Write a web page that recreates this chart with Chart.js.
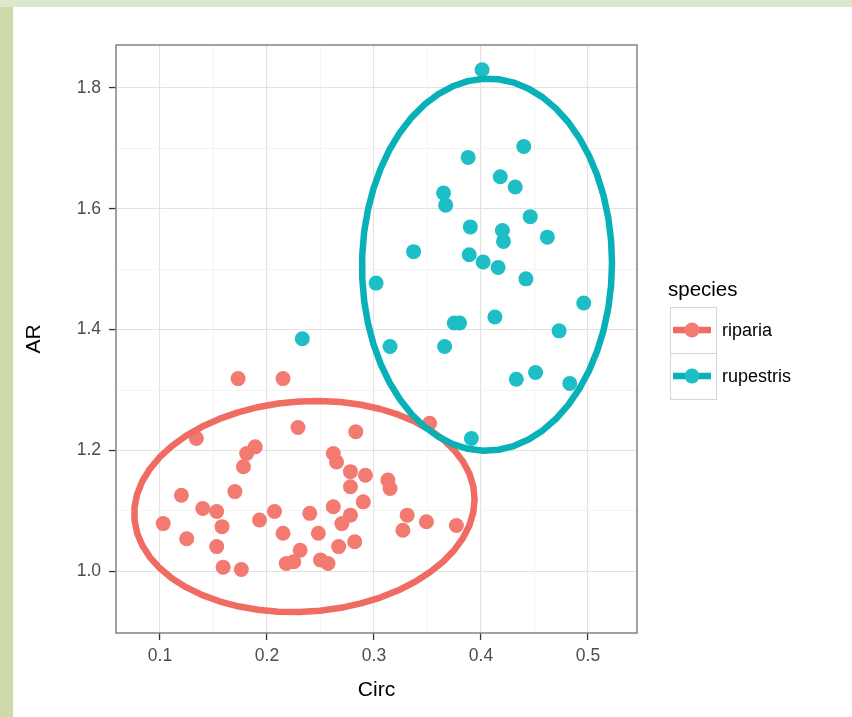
<!DOCTYPE html>
<html>
<head>
<meta charset="utf-8">
<script src="https://cdn.jsdelivr.net/npm/chart.js@4.4.1/dist/chart.umd.min.js"></script>
<style>
  html, body { margin: 0; padding: 0; }
  body { width: 852px; height: 717px; position: relative; background: #cbd9ab; overflow: hidden; }
  #topStrip { position: absolute; left: 0; top: 0; width: 852px; height: 7px; background: #dde7cb; }
  #paper { position: absolute; left: 13px; top: 7px; width: 839px; height: 710px; background: #ffffff; }
  #plot { position: absolute; left: 0; top: 0; }
</style>
</head>
<body>
<div id="topStrip"></div>
<div id="paper"></div>
<canvas id="plot" width="852" height="717"></canvas>
<script>
// values
const ripariaCirc = [0.173, 0.215, 0.229, 0.283, 0.189, 0.181, 0.178, 0.262, 0.265, 0.278,
                     0.292, 0.313, 0.315, 0.278, 0.290, 0.170, 0.120, 0.140, 0.153, 0.158,
                     0.103, 0.125, 0.153, 0.159, 0.176, 0.193, 0.207, 0.215, 0.218, 0.225,
                     0.231, 0.240, 0.248, 0.250, 0.257, 0.262, 0.270, 0.278, 0.267, 0.282,
                     0.331, 0.327, 0.349, 0.377, 0.352, 0.134];
const ripariaAR   = [1.319, 1.319, 1.238, 1.231, 1.206, 1.195, 1.173, 1.195, 1.181, 1.165,
                     1.159, 1.151, 1.137, 1.140, 1.115, 1.132, 1.126, 1.104, 1.099, 1.074,
                     1.079, 1.054, 1.041, 1.007, 1.003, 1.085, 1.099, 1.063, 1.013, 1.016,
                     1.035, 1.096, 1.063, 1.019, 1.013, 1.107, 1.079, 1.093, 1.041, 1.049,
                     1.093, 1.068, 1.082, 1.076, 1.245, 1.220];

const rupestrisCirc = [0.401, 0.440, 0.388, 0.418, 0.432, 0.365, 0.367, 0.446, 0.390, 0.420,
                       0.421, 0.462, 0.337, 0.389, 0.402, 0.416, 0.442, 0.302, 0.496, 0.375,
                       0.380, 0.413, 0.473, 0.315, 0.366, 0.433, 0.451, 0.483, 0.391, 0.233];
const rupestrisAR   = [1.830, 1.703, 1.685, 1.653, 1.636, 1.626, 1.606, 1.587, 1.570, 1.564,
                       1.546, 1.553, 1.529, 1.524, 1.512, 1.503, 1.484, 1.477, 1.444, 1.411,
                       1.411, 1.421, 1.398, 1.372, 1.372, 1.318, 1.329, 1.311, 1.220, 1.385];

const speciesNames = ['riparia', 'rupestris'];
const xTicks = [0.1, 0.2, 0.3, 0.4, 0.5];
const xMinor = [0.15, 0.25, 0.35, 0.45];
const yTicks = [1.0, 1.2, 1.4, 1.6, 1.8];
const yMinor = [1.1, 1.3, 1.5, 1.7];

const pointColors = ['#f37a70', '#1ebec6'];
const lineColors = ['#f06b62', '#07b1b7'];

function toPoints(xs, ys) {
    return xs.map((x, i) => ({ x: x, y: ys[i] }));
}

// ggplot2 stat_ellipse (type "t", level 0.95): robust covariance from MASS::cov.trob
function covTrob(xs, ys, nu) {
    const n = xs.length, p = 2;
    let w = xs.map(() => 1);
    let mx = xs.reduce((a, b) => a + b, 0) / n;
    let my = ys.reduce((a, b) => a + b, 0) / n;
    let dx = [], dy = [];
    for (let iter = 0; iter < 25; iter++) {
        const w0 = w.slice();
        dx = xs.map(v => v - mx);
        dy = ys.map(v => v - my);
        const sw = w.reduce((a, b) => a + b, 0);
        let a = 0, b = 0, c = 0;
        for (let i = 0; i < n; i++) {
            a += w[i] * dx[i] * dx[i];
            b += w[i] * dx[i] * dy[i];
            c += w[i] * dy[i] * dy[i];
        }
        a /= sw; b /= sw; c /= sw;
        const det = a * c - b * b;
        w = dx.map((u, i) => {
            const v = dy[i];
            const q = (c * u * u - 2 * b * u * v + a * v * v) / det;
            return (nu + p) / (nu + q);
        });
        const sw2 = w.reduce((s, t) => s + t, 0);
        mx = xs.reduce((s, t, i) => s + w[i] * t, 0) / sw2;
        my = ys.reduce((s, t, i) => s + w[i] * t, 0) / sw2;
        if (w.every((t, i) => Math.abs(t - w0[i]) < 0.01)) break;
    }
    let a = 0, b = 0, c = 0;
    for (let i = 0; i < n; i++) {
        a += w[i] * dx[i] * dx[i];
        b += w[i] * dx[i] * dy[i];
        c += w[i] * dy[i] * dy[i];
    }
    return { cx: mx, cy: my, a: a / n, b: b / n, c: c / n };
}

function ellipsePoints(xs, ys, level) {
    const fit = covTrob(xs, ys, 5);
    const dfd = xs.length - 1;
    const qf = (dfd / 2) * (Math.pow(1 - level, -2 / dfd) - 1); // F quantile with 2 df
    const radius = Math.sqrt(2 * qf);
    const r11 = Math.sqrt(fit.a);
    const r12 = fit.b / r11;
    const r22 = Math.sqrt(fit.c - r12 * r12);
    const segments = 51;
    const pts = [];
    for (let k = 0; k <= segments; k++) {
        const t = k * 2 * Math.PI / segments;
        const u = Math.cos(t), v = Math.sin(t);
        pts.push({ x: fit.cx + radius * u * r11, y: fit.cy + radius * (u * r12 + v * r22) });
    }
    return pts;
}

function inList(v, list) {
    return list.some(t => Math.abs(t - v) < 1e-9);
}

const panelBorder = {
    id: 'panelBorder',
    afterDraw(chart) {
        const { ctx, chartArea } = chart;
        ctx.save();
        ctx.strokeStyle = '#8a8a8a';
        ctx.lineWidth = 1.6;
        ctx.strokeRect(chartArea.left, chartArea.top, chartArea.right - chartArea.left, chartArea.bottom - chartArea.top);
        ctx.restore();
    }
};

const ggLegend = {
    id: 'ggLegend',
    afterDraw(chart) {
        const { ctx, chartArea } = chart;
        const left = chartArea.right + 33;
        const keySize = 46;
        ctx.save();
        ctx.fillStyle = '#000000';
        ctx.font = '20.5px "Liberation Sans", Arial, sans-serif';
        ctx.textBaseline = 'middle';
        ctx.textAlign = 'left';
        ctx.fillText('species', left - 2, 290);
        chart.data.datasets.filter(d => d.isSeries).forEach((d, i) => {
            const top = 307 + i * keySize;
            const midY = top + keySize / 2;
            ctx.fillStyle = '#ffffff';
            ctx.fillRect(left, top, keySize, keySize);
            ctx.strokeStyle = '#d6d6d6';
            ctx.lineWidth = 1;
            ctx.strokeRect(left + 0.5, top + 0.5, keySize, keySize);
            ctx.strokeStyle = d.lineColor;
            ctx.lineWidth = 6.5;
            ctx.beginPath();
            ctx.moveTo(left + 3, midY);
            ctx.lineTo(left + keySize - 5, midY);
            ctx.stroke();
            ctx.fillStyle = d.backgroundColor;
            ctx.beginPath();
            ctx.arc(left + keySize / 2 - 1, midY, 7.5, 0, Math.PI * 2);
            ctx.fill();
            ctx.fillStyle = '#000000';
            ctx.font = '18px "Liberation Sans", Arial, sans-serif';
            ctx.fillText(d.label, left + keySize + 6, midY + 1);
        });
        ctx.restore();
    }
};

const seriesX = [ripariaCirc, rupestrisCirc];
const seriesY = [ripariaAR, rupestrisAR];

const datasets = [];
speciesNames.forEach((name, i) => {
    datasets.push({
        label: name,
        isSeries: true,
        lineColor: lineColors[i],
        data: toPoints(seriesX[i], seriesY[i]),
        backgroundColor: pointColors[i],
        borderColor: pointColors[i],
        borderWidth: 0,
        pointRadius: 7.5,
        pointHoverRadius: 7.5,
        order: 3 - i
    });
});
speciesNames.forEach((name, i) => {
    datasets.push({
        label: name + ' ellipse',
        data: ellipsePoints(seriesX[i], seriesY[i], 0.95),
        showLine: true,
        borderColor: lineColors[i],
        borderWidth: 6.5,
        borderJoinStyle: 'round',
        borderCapStyle: 'round',
        pointRadius: 0,
        tension: 0,
        order: 1 - i
    });
});

const tickFont = { family: '"Liberation Sans", Arial, sans-serif', size: 17.5 };
const titleFont = { family: '"Liberation Sans", Arial, sans-serif', size: 21 };

const ctx = document.getElementById('plot').getContext('2d');
new Chart(ctx, {
    type: 'scatter',
    data: { datasets: datasets },
    options: {
        responsive: false,
        animation: false,
        layout: { padding: { top: 45, right: 215, left: 0, bottom: 0 } },
        plugins: { legend: { display: false }, tooltip: { enabled: false } },
        scales: {
            x: {
                type: 'linear',
                min: 0.0589,
                max: 0.5458,
                afterBuildTicks: scale => {
                    scale.ticks = xTicks.concat(xMinor).sort((a, b) => a - b).map(v => ({ value: v }));
                },
                afterFit: scale => { scale.height = 84; },
                ticks: {
                    autoSkip: false,
                    maxRotation: 0,
                    padding: 6,
                    color: '#4d4d4d',
                    font: tickFont,
                    callback: v => inList(v, xTicks) ? v.toFixed(1) : ''
                },
                grid: {
                    color: c => inList(c.tick.value, xTicks) ? '#e2e2e2' : '#f1f1f1',
                    lineWidth: c => inList(c.tick.value, xTicks) ? 1.1 : 0.8,
                    tickColor: c => inList(c.tick.value, xTicks) ? '#333333' : 'rgba(0,0,0,0)',
                    tickLength: 7,
                    tickWidth: 1.3
                },
                border: { display: false },
                title: {
                    display: true,
                    text: 'Circ',
                    color: '#000000',
                    font: titleFont,
                    padding: { top: 0, bottom: 14 }
                }
            },
            y: {
                type: 'linear',
                min: 0.898,
                max: 1.871,
                afterBuildTicks: scale => {
                    scale.ticks = yTicks.concat(yMinor).sort((a, b) => a - b).map(v => ({ value: v }));
                },
                afterFit: scale => { scale.width = 116; },
                ticks: {
                    autoSkip: false,
                    padding: 8,
                    color: '#4d4d4d',
                    font: tickFont,
                    callback: v => inList(v, yTicks) ? v.toFixed(1) : ''
                },
                grid: {
                    color: c => inList(c.tick.value, yTicks) ? '#e2e2e2' : '#f1f1f1',
                    lineWidth: c => inList(c.tick.value, yTicks) ? 1.1 : 0.8,
                    tickColor: c => inList(c.tick.value, yTicks) ? '#333333' : 'rgba(0,0,0,0)',
                    tickLength: 7,
                    tickWidth: 1.3
                },
                border: { display: false },
                title: {
                    display: true,
                    text: 'AR',
                    color: '#000000',
                    font: titleFont,
                    padding: { top: 22, bottom: 0 }
                }
            }
        }
    },
    plugins: [panelBorder, ggLegend]
});
</script>
</body>
</html>
